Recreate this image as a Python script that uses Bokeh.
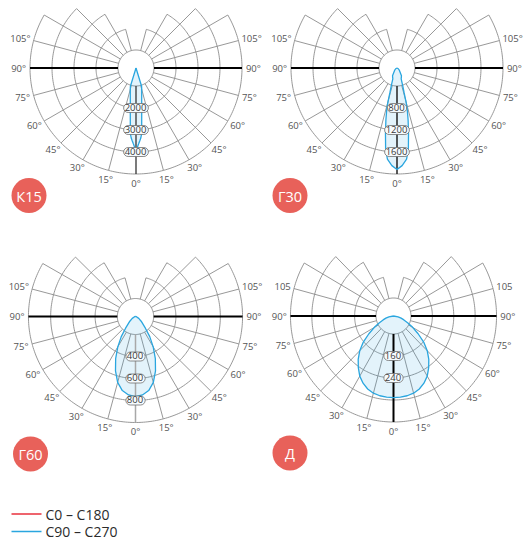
import numpy as np
from bokeh.plotting import figure
from bokeh.models import Range1d
from bokeh.core.properties import value
from bokeh.embed import file_html
from bokeh.resources import INLINE

# Luminous intensity curves: angle from nadir (deg) -> intensity (cd/klm)
k15_angles = [0, 1, 2, 3, 4, 5, 6, 7, 8, 10, 12, 14, 16, 17, 18, 90]
k15_values = [3950, 3780, 3630, 3490, 3360, 3150, 2660, 2310, 2050, 1670, 1430, 1250, 1120, 1050, 0, 0]
k15_rings = [2000, 3000, 4000]

g30_angles = [0, 3, 6, 8, 10, 12, 14, 15, 16, 18, 21, 30, 45, 60, 90]
g30_values = [1920, 1850, 1740, 1560, 1280, 1045, 840, 700, 545, 405, 285, 235, 135, 100, 0]
g30_rings = [800, 1200, 1600]

g60_angles = [0, 5, 10, 15, 20, 25, 30, 35, 40, 50, 60, 75, 90]
g60_values = [765, 752, 720, 657, 563, 459, 355, 260, 175, 103, 70, 45, 0]
g60_rings = [400, 600, 800]

d_angles = [0, 5, 10, 15, 20, 25, 30, 35, 40, 45, 50, 55, 60, 65, 70, 75, 80, 90]
d_values = [311, 311, 309, 305, 297, 284, 267, 244, 220, 193, 162, 127, 97, 74, 56, 44, 32, 0]
d_rings = [160, 240]

angle_ticks = [15, 30, 45, 60, 75, 90, 105]
legend_labels = ["C0 – C180", "C90 – C270"]
legend_colors = ["#E8313C", "#2AA6DF"]

panels = [
    dict(name="К15", angles=k15_angles, values=k15_values, rings=k15_rings, step=1000,
         c=(135.5, 67.5), sx=1.0, badge=(28.5, 195), vcol="#333333", vw=1.3, deg=True),
    dict(name="Г30", angles=g30_angles, values=g30_values, rings=g30_rings, step=400,
         c=(396.5, 67.5), sx=1.0, badge=(289.5, 195), vcol="#222222", vw=1.5, deg=True),
    dict(name="Г60", angles=g60_angles, values=g60_values, rings=g60_rings, step=200,
         c=(135.0, 316.0), sx=1.01, badge=(30, 453.5), vcol="#a8a8a8", vw=1.5, deg=True),
    dict(name="Д", angles=d_angles, values=d_values, rings=d_rings, step=80,
         c=(393.0, 315.5), sx=0.972, badge=(289.5, 452.5), vcol="#000000", vw=2.0, deg=False),
]

R0 = 18.0   # radius of the hub circle (one ring step)
DR = 22.0   # spacing between rings
ring_extent = {1: 165, 2: 150, 3: 135, 4: 120}
GRID = "#8c8c8c"
FONT = "Open Sans"

p = figure(width=527, height=540, output_backend="svg", toolbar_location=None,
           x_range=Range1d(0, 527), y_range=Range1d(540, 0), min_border=0)
p.axis.visible = False
p.grid.visible = False
p.outline_line_color = None
p.background_fill_color = "white"


def radius(v, step):
    return max(0.0, R0 + DR * (v / step - 1.0))


def to_xy(panel, theta_deg, r):
    t = np.radians(theta_deg)
    cx, cy = panel["c"]
    return cx + panel["sx"] * r * np.sin(t), cy + r * np.cos(t)


for pn in panels:
    cx, cy = pn["c"]
    # hub circle
    ts = np.linspace(0, 360, 181)
    hx, hy = to_xy(pn, ts, R0)
    p.patch(list(hx), list(hy), fill_color="white", line_color=GRID, line_width=1)

    # rings (arcs that stop short of the top)
    xs, ys = [], []
    for k, ext in ring_extent.items():
        ts = np.linspace(-ext, ext, 200)
        ax, ay = to_xy(pn, ts, R0 + DR * k)
        xs.append(list(ax)); ys.append(list(ay))
    # radial spokes every 15 degrees
    for a in range(15, 180, 15):
        if a == 90:
            continue
        if a <= 120:
            r_out = R0 + 4 * DR
        else:
            r_out = R0 + DR * (4 - (a - 120) // 15)
        for s in (-1, 1):
            sx_, sy_ = to_xy(pn, np.array([s * a, s * a]), np.array([R0, r_out]))
            xs.append(list(sx_)); ys.append(list(sy_))
    p.multi_line(xs, ys, line_color=GRID, line_width=0.9)

    # horizontal 90 degree axis
    for s in (-1, 1):
        lx, ly = to_xy(pn, np.array([s * 90, s * 90]), np.array([R0, R0 + 4 * DR]))
        p.line(list(lx), list(ly), line_color="black", line_width=1.8)

    # intensity curve, mirrored to both half-planes
    ang = np.array(pn["angles"], dtype=float)
    rr = np.array([radius(v, pn["step"]) for v in pn["values"]])
    full_ang = np.concatenate([-ang[::-1], ang[1:]])
    full_r = np.concatenate([rr[::-1], rr[1:]])
    fx, fy = to_xy(pn, full_ang, full_r)
    p.patch(list(fx), list(fy), fill_color=legend_colors[1], fill_alpha=0.13, line_color=None)

    # vertical 0 degree axis
    vx, vy = to_xy(pn, np.array([0.0, 0.0]), np.array([R0, R0 + 4 * DR]))
    p.line(list(vx), list(vy), line_color=pn["vcol"], line_width=pn["vw"])

    p.line(list(fx), list(fy), line_color=legend_colors[1], line_width=1.3)

    # ring value tags
    tx, ty = [], []
    for v in pn["rings"]:
        x_, y_ = to_xy(pn, 0.0, radius(v, pn["step"]))
        tx.append(float(x_)); ty.append(float(y_))
    p.text(x=tx, y=ty, text=[str(v) for v in pn["rings"]],
           text_font=value(FONT), text_font_size="9.5px", text_color="#3a3a3a",
           text_align="center", text_baseline="middle",
           background_fill_color="#f6fbfe", border_line_color="#6f6f6f",
           border_line_width=0.8, border_radius=5, padding=[1, 2, 0, 2])

    # angle labels
    lbx, lby, lbt = [], [], []
    for a in [0] + angle_ticks:
        sides = (1,) if a == 0 else (-1, 1)
        deg = "°" if (pn["deg"] or a != 105) else ""
        txt = f"{a}{deg}"
        nd = len(str(a))
        hw = (nd * 4.6 + (3.5 if deg else 0)) / 2
        for s in sides:
            t = np.radians(s * a)
            x_ = cx + pn["sx"] * 111 * np.sin(t) + hw * np.sin(t)
            y_ = cy + 111 * np.cos(t) + 4 * np.cos(t)
            lbx.append(float(x_)); lby.append(float(y_)); lbt.append(txt)
    p.text(x=lbx, y=lby, text=lbt, text_font=value(FONT), text_font_size="9.5px",
           text_color="#555555", text_align="center", text_baseline="middle")

    # badge
    bx, by = pn["badge"]
    p.scatter([bx], [by], size=35, marker="circle", fill_color="#E8615A", line_color=None)
    p.text([bx], [by + 0.5], text=[pn["name"]], text_font=value(FONT), text_font_size="14.5px",
           text_color="white", text_align="center", text_baseline="middle")

# legend
leg_y = [513.5, 531.0]
for yv, lab, col in zip(leg_y, legend_labels, legend_colors):
    p.line([11, 41], [yv, yv], line_color=col, line_width=1.3)
p.text(x=[45, 45], y=leg_y, text=legend_labels, text_font=value(FONT), text_font_size="14px",
       text_color="#2b2b2b", text_align="left", text_baseline="middle")

open("out.html", "w").write(file_html(p, INLINE))
